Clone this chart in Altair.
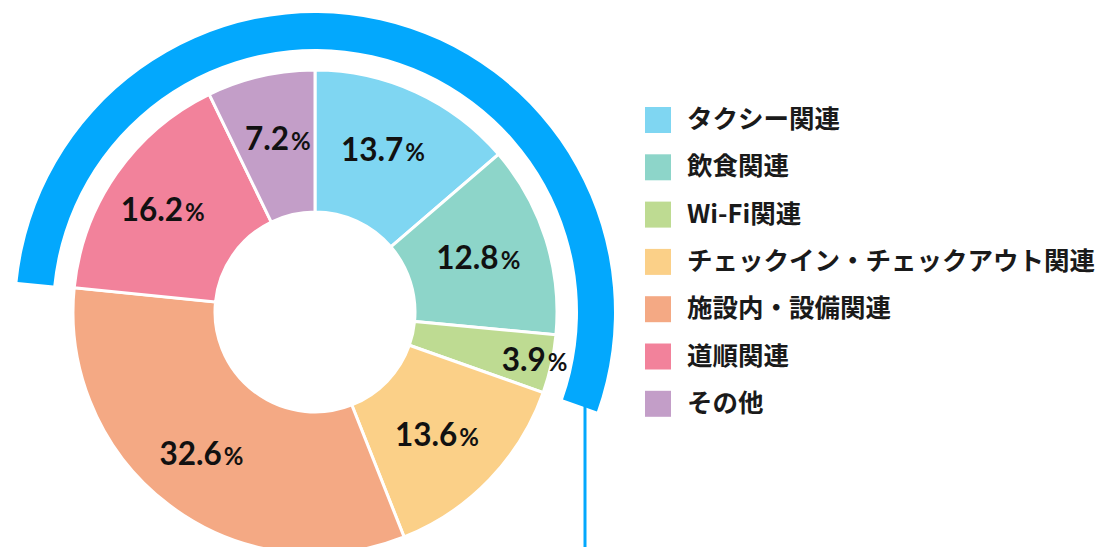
import math
import altair as alt
import pandas as pd

categories = ["タクシー関連", "飲食関連", "Wi-Fi関連", "チェックイン・チェックアウト関連",
              "施設内・設備関連", "道順関連", "その他"]
values = [13.7, 12.8, 3.9, 13.6, 32.6, 16.2, 7.2]
labels = ["13.7", "12.8", "3.9", "13.6", "32.6", "16.2", "7.2"]
colors = ["#7fd6f2", "#8dd5c9", "#bedb92", "#fbd088", "#f4a984", "#f2829b", "#c39ec8"]
BLUE = "#03a8fd"

df = pd.DataFrame({"category": categories, "value": values, "label": labels,
                   "order": list(range(len(categories)))})

CX, CY = 307, 304
total = sum(values)
cum = [sum(values[:i]) for i in range(len(values) + 1)]
s_idx = categories.index("道順関連")
e_idx = categories.index("Wi-Fi関連")
th1 = cum[s_idx] / total * 2 * math.pi
th2 = (cum[e_idx + 1] / total + 1) * 2 * math.pi

pie = alt.Chart(df).mark_arc(outerRadius=242, innerRadius=100, stroke="white", strokeWidth=3).encode(
    theta=alt.Theta("value:Q", stack=True),
    order=alt.Order("order:Q"),
    x=alt.value(CX),
    y=alt.value(CY),
    color=alt.Color(
        "category:N",
        scale=alt.Scale(domain=categories, range=colors),
        legend=alt.Legend(
            title=None, orient="none", legendX=637, legendY=99,
            symbolType="square", symbolSize=676, symbolStrokeWidth=0, symbolOpacity=1,
            labelFont="Noto Sans CJK JP", labelFontSize=25.5, labelFontWeight="bold",
            labelColor="#1a1a1a", rowPadding=20.3, labelOffset=16, labelLimit=0,
            padding=0,
        ),
    ),
)

lab = alt.Chart(df).transform_window(
    cum="sum(value)", sort=[alt.SortField("order")], frame=[None, 0]
).transform_joinaggregate(
    total="sum(value)"
).transform_calculate(
    mid="(datum.cum - datum.value / 2) / datum.total * 2 * PI",
    r="datum.value < 5 ? 222 : 178",
).transform_calculate(
    px=f"{CX} + datum.r * sin(datum.mid)",
    py=f"{CY} - datum.r * cos(datum.mid)",
).encode(
    x=alt.X("px:Q", scale=None, axis=None),
    y=alt.Y("py:Q", scale=None, axis=None),
)

nums = lab.mark_text(font="Lato", fontSize=31.5, fontWeight="bold", align="right",
                     baseline="alphabetic", dx=14, dy=11, color="#111111").encode(
    text="label:N",
)

pct = lab.mark_text(font="Lato", fontSize=24, fontWeight="bold", align="left",
                    baseline="alphabetic", dx=16, dy=11, color="#111111").encode(
    text=alt.value("%"),
)

one = pd.DataFrame({"a": [0]})
bracket = alt.Chart(one).mark_arc(color=BLUE).encode(
    x=alt.value(CX), y=alt.value(CY),
    theta=alt.value(th1), theta2=alt.value(th2),
    radius=alt.value(299), radius2=alt.value(263),
)

line = alt.Chart(one).mark_rule(color=BLUE, strokeWidth=3).encode(
    x=alt.value(577), y=alt.value(396), y2=alt.value(560)
)

chart = alt.layer(line, bracket, pie, nums, pct).properties(
    width=1090, height=539, autosize="none", padding=0
).configure_view(stroke=None)

chart.save("out.html", embed_options={"renderer": "svg", "actions": False})
